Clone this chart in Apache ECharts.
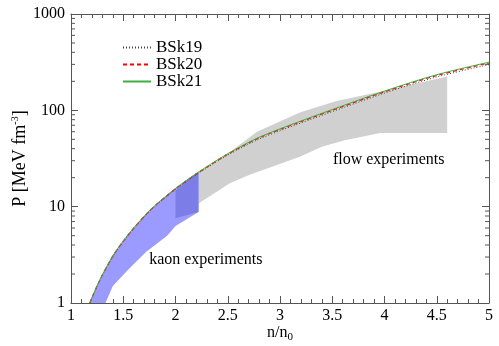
<!DOCTYPE html>
<html>
<head>
<meta charset="utf-8">
<script src="https://cdn.jsdelivr.net/npm/echarts@6/dist/echarts.min.js"></script>
<style>
  html, body { margin: 0; padding: 0; background: #fff; }
  #chart { width: 499px; height: 346px; }
</style>
</head>
<body>
<div id="chart"></div>
<script>
// density n/n0 and pressure P [MeV fm^-3]
const nX = [1.18, 1.2, 1.28, 1.4, 1.5, 1.6, 1.72, 1.8, 1.92, 2.0, 2.2, 2.5, 2.8, 3.14, 3.62, 4.0, 4.5, 5.0];
const bsk19 = [1.0, 1.13, 1.76, 3.03, 4.33, 5.9, 8.25, 10.0, 12.9, 15.1, 21.5, 34.3, 50.3, 70, 108, 151, 222, 298];
const bsk20 = [1.0, 1.13, 1.77, 3.07, 4.38, 5.98, 8.35, 10.15, 13.05, 15.35, 21.9, 35.1, 51.8, 72.2, 111.5, 156, 230, 310];
const bsk21 = [1.0, 1.135, 1.78, 3.09, 4.42, 6.03, 8.41, 10.23, 13.18, 15.49, 22.13, 35.48, 52.48, 73.28, 113.5, 158.5, 234.4, 316.2];

// kaon experiments band
const kaonX = [1.18, 1.28, 1.4, 1.56, 1.72, 1.92, 2.0, 2.22, 2.22, 2.0, 1.92, 1.72, 1.56, 1.4, 1.33];
const kaonP = [1.0, 1.78, 3.09, 5.3, 8.41, 13.18, 15.49, 23, 8.8, 6.3, 5.0, 3.4, 2.3, 1.5, 1.0];
// overlapping kaon box
const kaon2X = [2.0, 2.22, 2.22, 2.0];
const kaon2P = [7.6, 8.8, 23, 14.6];

// flow experiments band
const flowX = [2.22, 2.52, 2.71, 3.19, 3.4, 3.62, 3.96, 4.6, 4.6, 3.96, 3.54, 3.19, 2.78, 2.5, 2.22];
const flowP = [10.8, 17.5, 21.5, 33, 42, 49, 58, 58, 224, 156, 125, 95, 60, 35.5, 22.3];

// minor ticks of the log axis
const yMinor = [2, 3, 4, 5, 6, 7, 8, 9, 20, 30, 40, 50, 60, 70, 80, 90, 200, 300, 400, 500, 600, 700, 800, 900];

const serif = '"Liberation Serif", "Times New Roman", serif';
const axisCol = '#555';

const zip = (xs, ys) => xs.map((x, i) => [x, ys[i]]);

const polygon = (xs, ys, fill, z) => ({
  type: 'custom',
  coordinateSystem: 'cartesian2d',
  silent: true,
  z: z,
  data: [[xs[0], ys[0]]],
  renderItem: (params, api) => ({
    type: 'polygon',
    shape: { points: xs.map((x, i) => api.coord([x, ys[i]])) },
    style: { fill: fill, stroke: null }
  })
});

const textMark = (x, y, text) => ({
  type: 'custom',
  coordinateSystem: 'cartesian2d',
  silent: true,
  z: 5,
  data: [[x, y]],
  renderItem: (params, api) => {
    const p = api.coord([api.value(0), api.value(1)]);
    return {
      type: 'text',
      x: p[0], y: p[1],
      style: {
        text: text, fill: '#000',
        fontFamily: serif, fontSize: 16,
        align: 'center', verticalAlign: 'middle'
      }
    };
  }
});

const xAxisBase = {
  type: 'value',
  min: 1, max: 5, interval: 0.5,
  splitLine: { show: false },
  axisLine: { onZero: false, lineStyle: { color: axisCol, width: 1 } },
  axisTick: { inside: true, length: 7, lineStyle: { color: axisCol } },
  minorTick: { show: true, splitNumber: 5, length: 4, lineStyle: { color: axisCol } },
};

const yAxisBase = {
  type: 'log',
  logBase: 10,
  min: 1, max: 1000,
  splitLine: { show: false },
  axisLine: { show: true, onZero: false, lineStyle: { color: axisCol, width: 1 } },
  axisTick: { inside: true, length: 7, lineStyle: { color: axisCol } },
};

const chart = echarts.init(document.getElementById('chart'), null, { renderer: 'canvas' });

chart.setOption({
  animation: false,
  backgroundColor: '#fff',
  grid: { left: 71, right: 10, top: 14, bottom: 43, outerBoundsMode: 'none' },
  legend: {
    orient: 'vertical',
    left: 117, top: 34,
    itemWidth: 28, itemHeight: 14, itemGap: 0,
    itemStyle: { opacity: 0 },
    textStyle: { fontFamily: serif, fontSize: 17, color: '#000', lineHeight: 17 },
    data: ['BSk19', 'BSk20', 'BSk21']
  },
  xAxis: [
    Object.assign({}, xAxisBase, {
      position: 'bottom',
      name: 'n/n{s|0}',
      nameLocation: 'middle',
      nameGap: 20,
      nameMoveOverlap: false,
      nameTextStyle: {
        fontFamily: serif, fontSize: 16, color: '#000', verticalAlign: 'top',
        rich: { s: { fontFamily: serif, fontSize: 11, color: '#000', padding: [9, 0, 0, 0] } }
      },
      axisLabel: { fontFamily: serif, fontSize: 16, color: '#000', margin: 5 }
    }),
    Object.assign({}, xAxisBase, { position: 'top', axisLabel: { show: false } })
  ],
  yAxis: [
    Object.assign({}, yAxisBase, {
      position: 'left',
      name: 'P [MeV fm{s|-3}]',
      nameLocation: 'middle',
      nameRotate: 90,
      nameGap: 41,
      nameMoveOverlap: false,
      nameTextStyle: {
        fontFamily: serif, fontSize: 18, color: '#000',
        rich: { s: { fontFamily: serif, fontSize: 10, color: '#000', padding: [0, 0, 10, 0] } }
      },
      axisLabel: {
        fontFamily: serif, fontSize: 16, color: '#000', margin: 6,
        formatter: v => String(v)
      }
    }),
    Object.assign({}, yAxisBase, { position: 'right', axisLabel: { show: false } })
  ],
  series: [
    polygon(flowX, flowP, '#d0d0d0', 1),
    polygon(kaonX, kaonP, '#9a9aff', 2),
    polygon(kaon2X, kaon2P, '#7d7de8', 3),
    {
      type: 'custom',
      coordinateSystem: 'cartesian2d',
      silent: true,
      z: 6,
      clip: false,
      data: yMinor.map(v => [1, v]),
      renderItem: (params, api) => {
        const l = api.coord([1, api.value(1)]);
        const r = api.coord([5, api.value(1)]);
        const st = { stroke: axisCol, lineWidth: 1 };
        return {
          type: 'group',
          children: [
            { type: 'line', shape: { x1: l[0], y1: l[1], x2: l[0] + 4, y2: l[1] }, style: st },
            { type: 'line', shape: { x1: r[0] - 4, y1: r[1], x2: r[0], y2: r[1] }, style: st }
          ]
        };
      }
    },
    textMark(2.29, 2.8, 'kaon experiments'),
    textMark(4.04, 30.5, 'flow experiments'),
    {
      name: 'BSk19', type: 'line', smooth: 0.3, symbol: 'none', z: 7,
      data: zip(nX, bsk19),
      color: '#444',
      lineStyle: { color: '#444', width: 1, type: [1, 2] }
    },
    {
      name: 'BSk20', type: 'line', smooth: 0.3, symbol: 'none', z: 8,
      data: zip(nX, bsk20),
      color: '#ff0000',
      lineStyle: { color: '#ff0000', width: 1.2, type: [4, 3] }
    },
    {
      name: 'BSk21', type: 'line', smooth: 0.3, symbol: 'none', z: 9,
      data: zip(nX, bsk21),
      color: '#3fae3f',
      lineStyle: { color: '#3fae3f', width: 1 }
    }
  ]
});
</script>
</body>
</html>
